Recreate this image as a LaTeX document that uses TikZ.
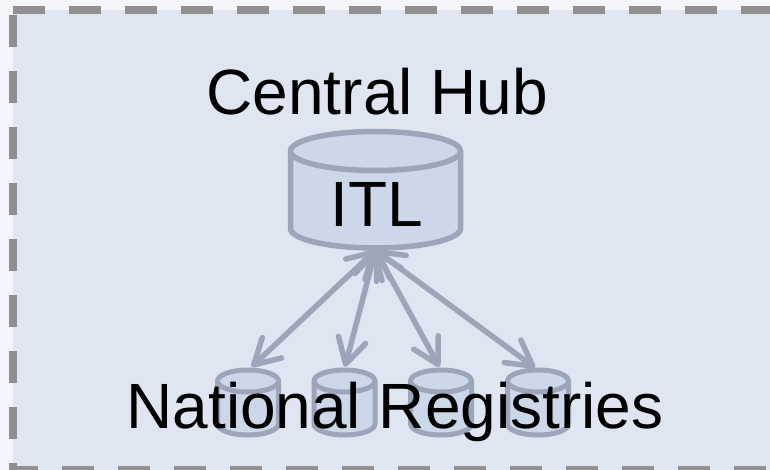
\documentclass[tikz,border=0pt]{standalone}
\usepackage{fontspec}
\setmainfont{Liberation Sans}
\usetikzlibrary{arrows.meta}
\definecolor{pagebg}{HTML}{F3F5FB}
\definecolor{panelbg}{HTML}{DFE5F1}
\definecolor{dashgrey}{HTML}{909090}
\definecolor{cylfill}{HTML}{CCD7EA}
\definecolor{cylline}{HTML}{9CA6B8}
\tikzset{
  frameline/.style={draw=dashgrey,line width=8pt,dash pattern=on 32pt off 24pt},
  drumline/.style={draw=cylline,fill=cylfill,line join=round},
  link/.style={draw=cylline,line width=5.5pt,
    {Straight Barb[length=25pt,width=28pt,round,line width=5.5pt]}-{Straight Barb[length=25pt,width=28pt,round,line width=5.5pt]}},
  label/.style={font=\fontsize{64pt}{64pt}\selectfont,text=black,anchor=base,inner sep=0pt}
}
% name, centre x, top ellipse y, bottom ellipse y, rx, ry, line width
\newcommand{\dbdrum}[7]{%
  \draw[drumline,line width=#7]
    ({#2-#5},#3) -- ({#2-#5},#4)
    .. controls ({#2-#5},{#4+0.5523*#6}) and ({#2-0.5523*#5},{#4+#6}) .. (#2,{#4+#6})
    .. controls ({#2+0.5523*#5},{#4+#6}) and ({#2+#5},{#4+0.5523*#6}) .. ({#2+#5},#4)
    -- ({#2+#5},#3);
  \draw[drumline,line width=#7] (#2,#3) ellipse [x radius=#5,y radius=#6];
  \node[inner sep=0pt,minimum width={2*#5},minimum height={#4-#3+2*#6}] (#1) at (#2,{(#3+#4)/2}) {};
}
\begin{document}
\begin{tikzpicture}[x=1pt,y=-1pt]
\useasboundingbox (0,0) rectangle (770,470);
\fill[pagebg] (0,0) rectangle (770,470);
\fill[panelbg] (13,10) rectangle (770,470);
\begin{scope}
\clip (0,0) rectangle (770,470);
\draw[frameline] (13,10) -- (790,10);
\draw[frameline] (13,15) -- (13,470) -- (790,470);
\end{scope}
\dbdrum{itl}{375.5}{151}{228.5}{85}{19.5}{5.5pt}
\dbdrum{r1}{248}{381}{424}{30.5}{11}{5pt}
\dbdrum{r2}{344.5}{381}{424}{30.5}{11}{5pt}
\dbdrum{r3}{441}{381}{424}{30.5}{11}{5pt}
\dbdrum{r4}{538}{381}{424}{30.5}{11}{5pt}
\path (itl.south) ++(0,2) coordinate (hub);
\path (r1.north) ++(3.7,-3) coordinate (t1);
\path (r2.north) ++(0.5,-3) coordinate (t2);
\path (r3.north) ++(-1.7,-3) coordinate (t3);
\path (r4.north) ++(-3,-2) coordinate (t4);
\draw[link] (hub) -- (t1);
\draw[link] (hub) -- (t2);
\draw[link] (hub) -- (t3);
\draw[link] (hub) -- (t4);
\node[label] (central) at (377.3,115) {Central Hub};
\node[label] (itltext) at (376.5,226.7) {ITL};
\node[label] (national) at (395,428.3) {National Registries};
\end{tikzpicture}
\end{document}
